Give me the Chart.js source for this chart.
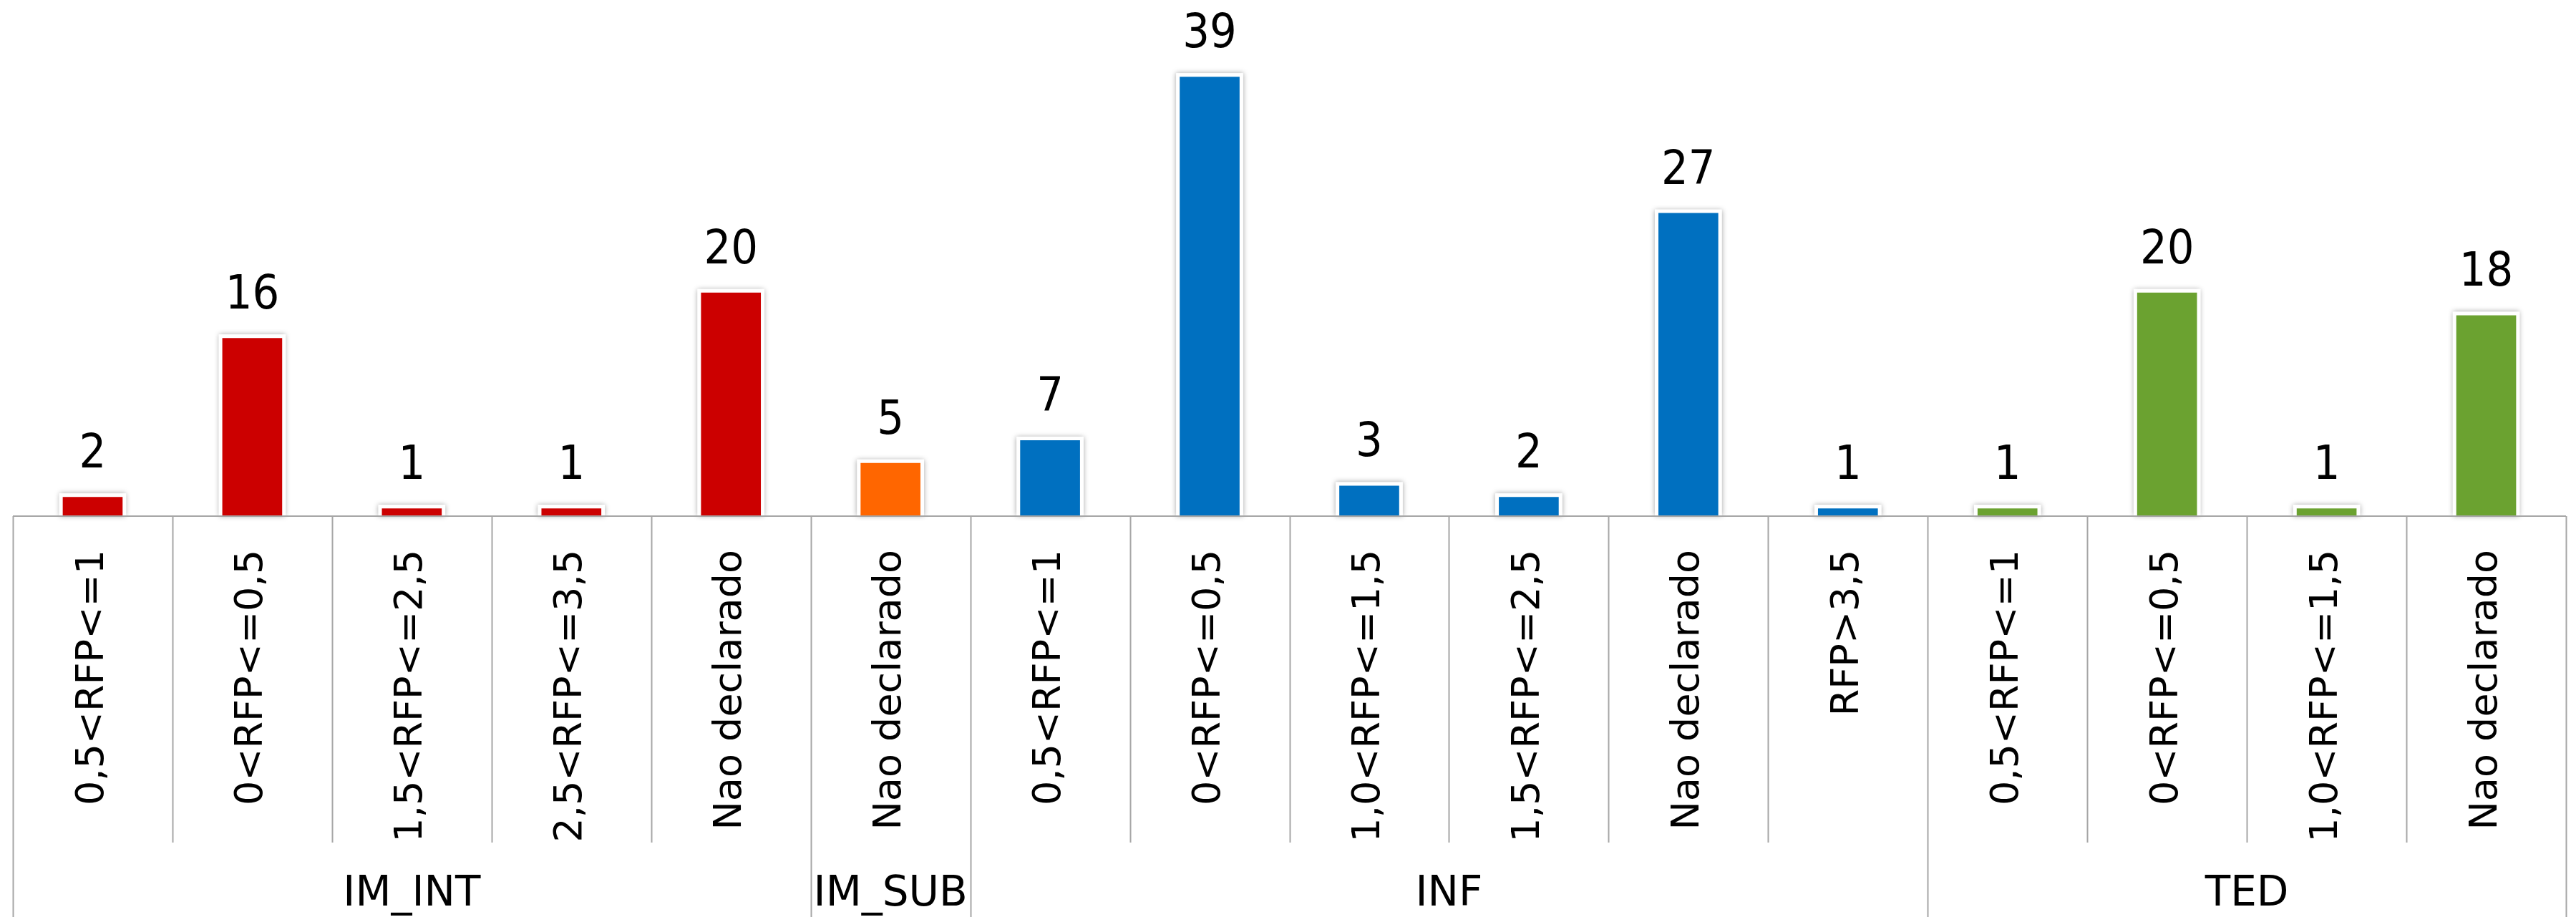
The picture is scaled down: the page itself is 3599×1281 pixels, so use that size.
<!DOCTYPE html>
<html>
<head>
<meta charset="utf-8">
<script src="https://cdn.jsdelivr.net/npm/chart.js@4"></script>
<style>
  html, body { margin: 0; padding: 0; background: #fff; }
  #wrap { width: 3599px; height: 1281px; }
</style>
</head>
<body>
<div id="wrap"><canvas id="chart"></canvas></div>
<script>
// categories, in order of the chart
const categories = [
    "0,5<RFP<=1", "0<RFP<=0,5", "1,5<RFP<=2,5", "2,5<RFP<=3,5", "Nao declarado",
    "Nao declarado",
    "0,5<RFP<=1", "0<RFP<=0,5", "1,0<RFP<=1,5", "1,5<RFP<=2,5", "Nao declarado", "RFP>3,5",
    "0,5<RFP<=1", "0<RFP<=0,5", "1,0<RFP<=1,5", "Nao declarado"
];
const values = [2, 16, 1, 1, 20, 5, 7, 39, 3, 2, 27, 1, 1, 20, 1, 18];
const groups = ["IM_INT", "IM_SUB", "INF", "TED"];
const groupSizes = [5, 1, 6, 4];

const groupColors = { IM_INT: "#CC0000", IM_SUB: "#FF6600", INF: "#0070C0", TED: "#6BA230" };

// which group each bar belongs to
const barGroup = [];
groups.forEach((g, i) => { for (let k = 0; k < groupSizes[i]; k++) barGroup.push(g); });

// soft grey edge behind each bar, value labels above
const barShadow = {
    id: "barShadow",
    beforeDatasetsDraw(chart) {
        const ctx = chart.ctx;
        ctx.save();
        ctx.shadowColor = "rgba(0,0,0,0.35)";
        ctx.shadowBlur = 7;
        ctx.fillStyle = "#fff";
        chart.getDatasetMeta(0).data.forEach(bar => {
            ctx.fillRect(bar.x - bar.width / 2, bar.y, bar.width, bar.base - bar.y);
        });
        ctx.restore();
    },
    afterDatasetsDraw(chart) {
        const ctx = chart.ctx;
        ctx.save();
        ctx.fillStyle = "#000";
        ctx.font = "66px 'DejaVu Sans Condensed', 'DejaVu Sans', sans-serif";
        ctx.textAlign = "center";
        ctx.textBaseline = "alphabetic";
        chart.getDatasetMeta(0).data.forEach((bar, i) => {
            ctx.fillText(String(values[i]), bar.x, bar.y - 36);
        });
        ctx.restore();
    }
};

// axis line, category dividers and group names underneath
const groupTable = {
    id: "groupTable",
    afterDraw(chart) {
        const ctx = chart.ctx;
        const x = chart.scales.x;
        const area = chart.chartArea;
        const half = (x.getPixelForValue(1) - x.getPixelForValue(0)) / 2;
        const edge = i => i < categories.length ? x.getPixelForValue(i) - half : x.getPixelForValue(i - 1) + half;

        const groupEdges = [0];
        groupSizes.forEach(n => groupEdges.push(groupEdges[groupEdges.length - 1] + n));

        ctx.save();
        ctx.strokeStyle = "#A6A6A6";
        ctx.lineWidth = 2;
        ctx.beginPath();
        ctx.moveTo(area.left, area.bottom);
        ctx.lineTo(area.right, area.bottom);
        for (let i = 0; i <= categories.length; i++) {
            const px = Math.round(edge(i)) + 0.5;
            ctx.moveTo(px, area.bottom);
            ctx.lineTo(px, groupEdges.includes(i) ? chart.height : area.bottom + 456);
        }
        ctx.stroke();

        ctx.fillStyle = "#000";
        ctx.font = "58px 'DejaVu Sans', sans-serif";
        ctx.textAlign = "center";
        ctx.textBaseline = "alphabetic";
        groups.forEach((g, i) => {
            const mid = (edge(groupEdges[i]) + edge(groupEdges[i + 1])) / 2;
            ctx.fillText(g, mid, chart.height - 16);
        });
        ctx.restore();
    }
};

new Chart(document.getElementById("chart"), {
    type: "bar",
    data: {
        labels: categories,
        datasets: [{
            data: values,
            backgroundColor: barGroup.map(g => groupColors[g]),
            borderColor: "#ffffff",
            borderWidth: 5,
            barPercentage: 0.42,
            categoryPercentage: 1.0
        }]
    },
    options: {
        responsive: true,
        maintainAspectRatio: false,
        devicePixelRatio: 1,
        animation: false,
        layout: { padding: { left: 18, right: 14, top: 7, bottom: 0 } },
        plugins: {
            legend: { display: false },
            tooltip: { enabled: false }
        },
        scales: {
            y: {
                display: false,
                min: 0,
                max: 45
            },
            x: {
                grid: { display: false },
                border: { display: false },
                ticks: {
                    autoSkip: false,
                    maxRotation: 90,
                    minRotation: 90,
                    padding: 39,
                    color: "#000",
                    font: { family: "'DejaVu Sans', sans-serif", size: 54 }
                },
                afterFit(scale) { scale.height = 560; }
            }
        }
    },
    plugins: [barShadow, groupTable]
});
</script>
</body>
</html>
